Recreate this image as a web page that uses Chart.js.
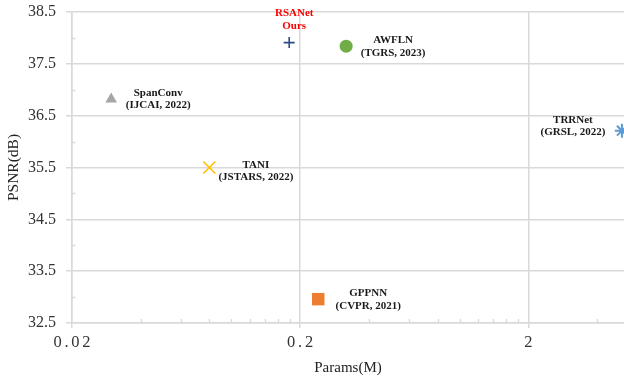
<!DOCTYPE html>
<html>
<head>
<meta charset="utf-8">
<script src="https://cdn.jsdelivr.net/npm/chart.js@4.4.1/dist/chart.umd.min.js"></script>
<style>
  html, body { margin: 0; padding: 0; background: #ffffff; }
  #wrap { width: 624px; height: 380px; }
</style>
</head>
<body>
<div id="wrap"><canvas id="chart" width="624" height="380"></canvas></div>
<script>
// Methods compared: parameter count (millions) vs. PSNR (dB)
const methods  = ['RSANet', 'AWFLN', 'SpanConv', 'TANI', 'GPPNN', 'TRRNet'];
const captions = ['Ours', '(TGRS, 2023)', '(IJCAI, 2022)', '(JSTARS, 2022)', '(CVPR, 2021)', '(GRSL, 2022)'];
const paramsM  = [0.179, 0.318, 0.0297, 0.080, 0.240, 5.14];
const psnrDb   = [37.91, 37.84, 36.82, 35.50, 32.96, 36.21];

// Axis ticks
const xTickValues  = [0.02, 0.2, 2];
const xMinorValues = [0.04, 0.06, 0.08, 0.1, 0.12, 0.14, 0.16, 0.18,
                      0.4, 0.6, 0.8, 1, 1.2, 1.4, 1.6, 1.8, 4];
const yTickValues  = [32.5, 33.5, 34.5, 35.5, 36.5, 37.5, 38.5];
const yMinorValues = [33, 34, 35, 36, 37, 38];

// Marker appearance per method
const markerStyles = [
  { style: 'cross',    color: '#2F4A8A', radius: 5.5, stroke: 1.6 },
  { style: 'circle',   color: '#70AD47', radius: 6.5, stroke: 0 },
  { style: 'triangle', color: '#A5A5A5', radius: 6.7, stroke: 0 },
  { style: 'crossRot', color: '#FFC000', radius: 8.5, stroke: 1.6 },
  { style: 'rect',     color: '#ED7D31', radius: 8.8, stroke: 0 },
  { style: 'star',     color: '#5B9BD5', radius: 7,   stroke: 2 }
];
// Label placement relative to each marker: [dx, dy of first line]
const labelOffsets = [[5, -29.3], [47, -6], [47, -6.4], [46.5, -2.6], [50, -6], [-49, -10.7]];
const labelColors  = ['#FF0000', '#1a1a1a', '#1a1a1a', '#1a1a1a', '#1a1a1a', '#1a1a1a'];

const SERIF = '"Liberation Serif", "Times New Roman", serif';
const GRID = '#d9d9d9';
const spaced = s => s.split('').join('\u2006');

const datasets = methods.map((m, i) => {
  const st = markerStyles[i];
  const filled = st.stroke === 0;
  return {
    label: m,
    data: [{ x: paramsM[i], y: psnrDb[i] }],
    pointStyle: st.style,
    pointRadius: st.radius,
    pointHoverRadius: st.radius,
    backgroundColor: st.color,
    borderColor: st.color,
    pointBorderWidth: filled ? 0 : st.stroke,
    clip: false
  };
});

const minorTicks = {
  id: 'minorTicks',
  afterDraw(chart) {
    const ctx = chart.ctx, xs = chart.scales.x, ys = chart.scales.y;
    const area = chart.chartArea;
    ctx.save();
    ctx.strokeStyle = GRID;
    ctx.lineWidth = 1.3;
    ctx.beginPath();
    xMinorValues.forEach(v => {
      const px = Math.round(xs.getPixelForValue(v)) + 0.5;
      ctx.moveTo(px, area.bottom);
      ctx.lineTo(px, area.bottom - 4);
    });
    yMinorValues.forEach(v => {
      const py = Math.round(ys.getPixelForValue(v)) + 0.5;
      ctx.moveTo(area.left, py);
      ctx.lineTo(area.left + 3.5, py);
    });
    ctx.stroke();
    ctx.restore();
  }
};

const pointLabels = {
  id: 'pointLabels',
  afterDatasetsDraw(chart) {
    const ctx = chart.ctx;
    ctx.save();
    ctx.font = 'bold 11px ' + SERIF;
    ctx.textAlign = 'center';
    ctx.textBaseline = 'middle';
    chart.data.datasets.forEach((ds, i) => {
      const el = chart.getDatasetMeta(i).data[0];
      const [dx, dy] = labelOffsets[i];
      ctx.fillStyle = labelColors[i];
      ctx.fillText(methods[i], el.x + dx, el.y + dy);
      ctx.fillText(captions[i], el.x + dx, el.y + dy + 12.5);
    });
    ctx.restore();
  }
};

new Chart(document.getElementById('chart'), {
  type: 'scatter',
  data: { datasets },
  plugins: [minorTicks, pointLabels],
  options: {
    responsive: false,
    animation: false,
    events: [],
    layout: { autoPadding: false, padding: { top: 12, right: 0, left: 0, bottom: 0 } },
    plugins: { legend: { display: false }, tooltip: { enabled: false } },
    scales: {
      x: {
        type: 'logarithmic',
        min: 0.02,
        max: 5.25,
        afterBuildTicks: s => { s.ticks = xTickValues.map(v => ({ value: v })); },
        afterFit: s => { s.height = 57; s.paddingLeft = 0; s.paddingRight = 0; },
        grid: { color: GRID, lineWidth: 1.5, tickLength: 5, drawTicks: true },
        border: { color: GRID, width: 1.5 },
        ticks: {
          autoSkip: false, maxRotation: 0, padding: 5, color: '#333333',
          font: { family: SERIF, size: 16.5 },
          callback: v => spaced(String(v))
        },
        title: {
          display: true, text: 'Params(M)', color: '#222222',
          font: { family: SERIF, size: 15 },
          padding: { top: 0, bottom: 3 }
        }
      },
      y: {
        min: 32.5,
        max: 38.5,
        afterBuildTicks: s => { s.ticks = yTickValues.map(v => ({ value: v })); },
        afterFit: s => { s.width = 72; s.paddingTop = 0; s.paddingBottom = 0; },
        grid: { color: GRID, lineWidth: 1.5, tickLength: 6, drawTicks: true },
        border: { color: GRID, width: 1.5 },
        ticks: {
          padding: 10, color: '#333333',
          font: { family: SERIF, size: 16 },
          callback: v => v.toFixed(1)
        },
        title: {
          display: true, text: 'PSNR(dB)', color: '#222222',
          font: { family: SERIF, size: 15.5 },
          padding: { top: 5, bottom: 0 }
        }
      }
    }
  }
});
</script>
</body>
</html>
